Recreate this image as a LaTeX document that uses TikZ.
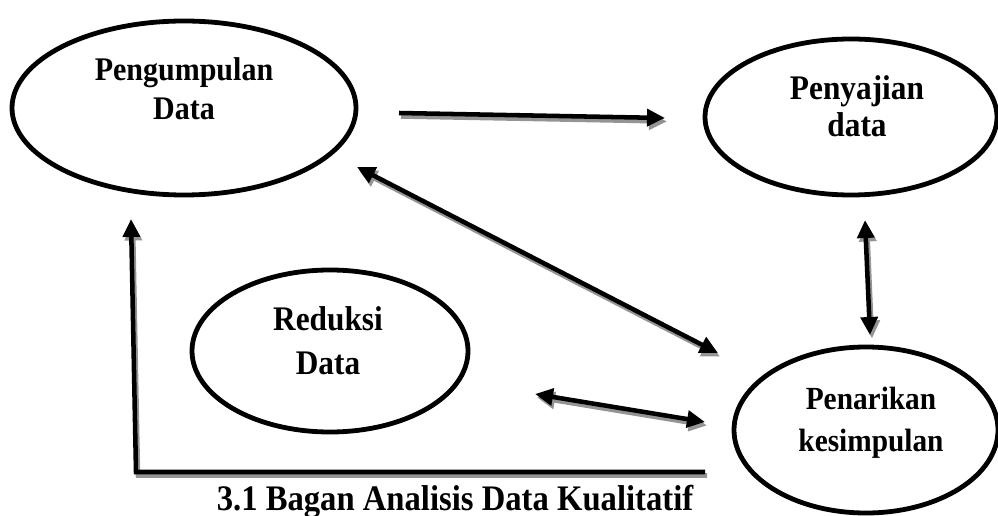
\documentclass[tikz,border=0pt]{standalone}
\usepackage{fontspec}
\setmainfont{Liberation Serif}
\usetikzlibrary{shapes.geometric,arrows.meta}
\newcommand{\vstretch}[1]{\scalebox{1}[1.1]{\begin{tabular}{@{}c@{}}#1\end{tabular}}}
\begin{document}
\begin{tikzpicture}[x=0.75pt,y=-0.75pt,
  >={Triangle[length=13.5pt,width=12.5pt]},
  oval/.style={draw=black,line width=3.6pt,ellipse,inner sep=0pt,fill=none},
  lbl/.style={align=center,inner sep=0pt},
  conn/.style={line width=3.4pt,black,line join=miter,
     preaction={draw=black!42,line width=3.4pt,transform canvas={shift={(2,3.5)}}}}
]
\useasboundingbox (0,0) rectangle (998,516);
% ellipses
\node[oval,minimum width=258pt,minimum height=130.5pt] (pd) at (184,108) {};
\node[oval,minimum width=219pt,minimum height=117pt] (pj) at (851,117) {};
\node[oval,minimum width=198pt,minimum height=124.5pt] (pk) at (866,430) {};
\node[oval,minimum width=207pt,minimum height=121.5pt] (rd) at (330,351) {};
% labels
\node[lbl,font=\bfseries\fontsize{22.5}{27}\selectfont] (tpd) at (184,92) {\vstretch{Pengumpulan\\Data}};
\node[lbl,font=\bfseries\fontsize{23.5}{25}\selectfont] (tpj) at (857,111) {\vstretch{Penyajian\\data}};
\node[lbl,font=\bfseries\fontsize{22}{28.5}\selectfont] (tpk) at (871,422) {\vstretch{Penarikan\\kesimpulan}};
\node[lbl,font=\bfseries\fontsize{23.5}{30}\selectfont] (trd) at (328,344) {\vstretch{Reduksi\\Data}};
\node[inner sep=0pt,anchor=base,font=\bfseries\fontsize{24.5}{29}\selectfont] (cap) at (455,510) {\scalebox{1}[1.1]{3.1 Bagan Analisis Data Kualitatif}};
% connector end points
\coordinate (a1s) at (399,113);
\coordinate (a1e) at (665,118);
\coordinate (a2s) at (357,167);
\coordinate (a2e) at (718,353);
\coordinate (a3s) at (865,220);
\coordinate (a3e) at (870,335);
\coordinate (a4s) at (535,394);
\coordinate (a4e) at (705,422);
\coordinate (f0) at (705,472);
\coordinate (f1) at (136,472);
\coordinate (f2) at (131,219);
% connectors
\draw[conn,->] (a1s) -- (a1e);
\draw[conn,<->] (a2s) -- (a2e);
\draw[conn,<->] (a3s) -- (a3e);
\draw[conn,<->] (a4s) -- (a4e);
\draw[conn,->] (f0) -- (f1) -- (f2);
\end{tikzpicture}
\end{document}
